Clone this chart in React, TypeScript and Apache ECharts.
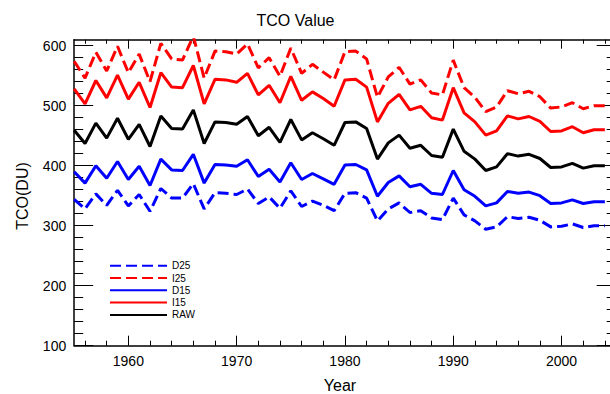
import React, { useEffect, useRef } from "react";
import * as echarts from "echarts";

const YEARS = [
  1955, 1956, 1957, 1958, 1959, 1960, 1961, 1962, 1963, 1964,
  1965, 1966, 1967, 1968, 1969, 1970, 1971, 1972, 1973, 1974,
  1975, 1976, 1977, 1978, 1979, 1980, 1981, 1982, 1983, 1984,
  1985, 1986, 1987, 1988, 1989, 1990, 1991, 1992, 1993, 1994,
  1995, 1996, 1997, 1998, 1999, 2000, 2001, 2002, 2003, 2004,
];

const RAW = [
  459, 437, 471, 446, 479, 444, 469, 432, 483, 462,
  461, 493, 437, 473, 472, 469, 482, 450, 464, 439,
  477, 443, 455, 445, 434, 472, 473, 462, 411, 438,
  451, 429, 434, 417, 414, 461, 424, 411, 392, 398,
  420, 416, 419, 412, 397, 398, 404, 396, 400, 400,
];

const I15 = [
  528, 503, 542, 513, 551, 511, 539, 497, 555, 531,
  530, 567, 503, 544, 543, 539, 554, 518, 534, 505,
  549, 509, 523, 512, 499, 543, 544, 531, 473, 504,
  519, 493, 499, 480, 476, 530, 488, 473, 451, 458,
  483, 478, 482, 474, 457, 458, 465, 455, 460, 460,
];

const D15 = [
  390, 371, 400, 379, 407, 377, 399, 367, 411, 393,
  392, 419, 371, 402, 401, 399, 410, 382, 394, 373,
  405, 377, 387, 378, 369, 401, 402, 393, 349, 372,
  383, 365, 369, 354, 352, 392, 360, 349, 333, 338,
  357, 354, 356, 350, 337, 338, 343, 337, 340, 340,
];

const I25 = [
  574, 546, 589, 558, 599, 555, 586, 540, 604, 578,
  576, 616, 546, 591, 590, 586, 603, 563, 580, 549,
  596, 554, 569, 556, 543, 590, 591, 578, 514, 548,
  564, 536, 543, 521, 518, 576, 530, 514, 490, 498,
  525, 520, 524, 515, 496, 498, 505, 495, 500, 500,
];

const D25 = [
  344, 328, 353, 334, 359, 333, 352, 324, 362, 346,
  346, 370, 328, 355, 354, 352, 361, 337, 348, 329,
  358, 332, 341, 334, 325, 354, 355, 346, 308, 328,
  338, 322, 325, 313, 310, 346, 318, 308, 294, 298,
  315, 312, 314, 309, 298, 299, 303, 297, 300, 300,
];

const X_MAJOR = [1960, 1970, 1980, 1990, 2000];
const X_MINOR = [
  1956, 1958, 1962, 1964, 1966, 1968, 1972, 1974, 1976, 1978,
  1982, 1984, 1986, 1988, 1992, 1994, 1996, 1998, 2002, 2004,
];
const Y_MAJOR = [100, 200, 300, 400, 500, 600];
const Y_MINOR = [
  120, 140, 160, 180, 220, 240, 260, 280, 320, 340, 360, 380,
  420, 440, 460, 480, 520, 540, 560, 580,
];

const LEGEND_ORDER = ["D25", "I25", "D15", "I15", "RAW"];

const FONT = '"Liberation Sans", Arial, Helvetica, sans-serif';

function pair(vals: number[]) {
  return YEARS.map((y, i) => [y, vals[i]]);
}

export default function App() {
  const ref = useRef<HTMLDivElement>(null);

  useEffect(() => {
    if (!ref.current) return;
    const chart = echarts.init(ref.current, null, { renderer: "svg" });

    const axisLineStyle = { color: "#000", width: 1.5 };
    const tickLine = { color: "#000", width: 1 };

    const xBase = {
      type: "value",
      min: 1955,
      max: 2005,
      offset: 0,
      splitLine: { show: false },
    };
    const yBase = {
      type: "value",
      min: 100,
      max: 610,
      offset: 0,
      splitLine: { show: false },
    };

    const mkX = (position: string, vals: number[], len: number, line: boolean, labels: boolean) => ({
      ...xBase,
      position,
      axisLine: { show: line, lineStyle: axisLineStyle },
      axisTick: { show: true, inside: true, length: len, customValues: vals, lineStyle: tickLine },
      axisLabel: labels
        ? {
            show: true,
            customValues: vals,
            margin: 8,
            fontSize: 14,
            color: "#000",
            fontFamily: FONT,
            formatter: (v: number) => String(v),
          }
        : { show: false },
    });

    const mkY = (position: string, vals: number[], len: number, line: boolean, labels: boolean) => ({
      ...yBase,
      position,
      axisLine: { show: line, lineStyle: axisLineStyle },
      axisTick: { show: true, inside: true, length: len, customValues: vals, lineStyle: tickLine },
      axisLabel: labels
        ? {
            show: true,
            customValues: vals,
            margin: 8,
            fontSize: 14,
            color: "#000",
            fontFamily: FONT,
            formatter: (v: number) => String(v),
          }
        : { show: false },
    });

    const mkSeries = (name: string, vals: number[], color: string, dashed: boolean) => ({
      name,
      type: "line",
      xAxisIndex: 0,
      yAxisIndex: 0,
      data: pair(vals),
      symbol: "none",
      showSymbol: false,
      color,
      lineStyle: { color, width: 3, type: dashed ? [11, 5] : "solid" },
      emphasis: { disabled: true },
    });

    chart.setOption({
      animation: false,
      backgroundColor: "#fff",
      grid: { left: 74.2, top: 39.7, width: 541.5, height: 306, containLabel: false },
      xAxis: [
        mkX("bottom", X_MAJOR, 10, true, true),
        mkX("bottom", X_MINOR, 5, false, false),
        mkX("top", X_MAJOR, 9, true, false),
        mkX("top", X_MINOR, 4, false, false),
      ],
      yAxis: [
        mkY("left", Y_MAJOR, 19, true, true),
        mkY("left", Y_MINOR, 9, false, false),
        mkY("right", Y_MAJOR, 19, true, false),
        mkY("right", Y_MINOR, 9, false, false),
      ],
      legend: {
        orient: "vertical",
        left: 109,
        top: 259.7,
        padding: 0,
        itemWidth: 57,
        itemHeight: 12,
        itemGap: 0.3,
        data: LEGEND_ORDER,
        selectedMode: false,
        textStyle: { fontSize: 10, lineHeight: 12, color: "#000", fontFamily: FONT },
        itemStyle: { color: "transparent", borderColor: "transparent", borderWidth: 0 },
      },
      graphic: [
        {
          type: "text",
          x: 295.5,
          y: 20.7,
          style: {
            text: "TCO Value",
            font: `16px ${FONT}`,
            fill: "#000",
            align: "center",
            verticalAlign: "middle",
            textAlign: "center",
            textVerticalAlign: "middle",
          },
        },
        {
          type: "text",
          x: 340,
          y: 385,
          style: {
            text: "Year",
            font: `16px ${FONT}`,
            fill: "#000",
            align: "center",
            verticalAlign: "middle",
            textAlign: "center",
            textVerticalAlign: "middle",
          },
        },
        {
          type: "text",
          x: 22,
          y: 196,
          rotation: Math.PI / 2,
          style: {
            text: "TCO(DU)",
            font: `16px ${FONT}`,
            fill: "#000",
            align: "center",
            verticalAlign: "middle",
            textAlign: "center",
            textVerticalAlign: "middle",
          },
        },
      ],
      series: [
        mkSeries("RAW", RAW, "#000000", false),
        mkSeries("I15", I15, "#ff0000", false),
        mkSeries("D15", D15, "#0000ff", false),
        mkSeries("I25", I25, "#ff0000", true),
        mkSeries("D25", D25, "#0000ff", true),
      ],
    });

    return () => chart.dispose();
  }, []);

  return (
    <div
      style={{
        position: "fixed",
        left: 0,
        top: 0,
        width: 610,
        height: 394,
        overflow: "hidden",
        background: "#fff",
      }}
    >
      <div ref={ref} style={{ width: 620, height: 394 }} />
    </div>
  );
}
